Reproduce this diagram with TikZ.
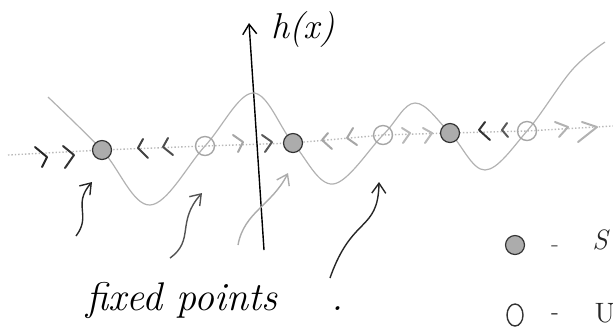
\documentclass[tikz,border=0pt]{standalone}
\usepackage{tikz}
\usetikzlibrary{arrows.meta, shapes.geometric}

\begin{document}
\begin{tikzpicture}[
        x=0.5pt, y=-0.5pt,
        axisline/.style={gray!55, densely dotted, line width=0.7pt},
        curve/.style={gray!60, line width=0.6pt},
        chev/.style={gray!60!black, line width=1pt, line cap=round, line join=round},
        stable/.style={circle, draw=black!80, fill=gray!65, line width=0.6pt, minimum size=9.5pt, inner sep=0pt},
        unstable/.style={circle, draw=gray!70, line width=0.7pt, minimum size=9.5pt, inner sep=0pt},
        pointer/.style={-{Straight Barb[length=5pt, width=7pt]}, line width=0.7pt},
        hand/.style={font=\fontsize{20}{24}\selectfont\itshape, inner sep=0pt}
    ]
        \useasboundingbox (0,0) rectangle (613,329);

        % h(x) axis and the x axis
        \coordinate (xl) at (8,155);
        \coordinate (xr) at (613,126);
        \draw[axisline] (xl) -- (102,150) -- (205,146) -- (293,143) -- (383,135) -- (450,133) -- (527,131) -- (xr);
        \coordinate (hbot) at (264,250);
        \coordinate (htop) at (249,23);
        \draw[-{Straight Barb[length=5pt, width=7pt]}, line width=0.7pt] (hbot) -- (htop);
        \node[hand, font=\fontsize{18}{20}\selectfont\itshape] (hlabel) at (303,30) {h(x)};

        % the function
        \draw[curve] plot[smooth, tension=0.6] coordinates {(48,97) (102,150) (150,205) (205,146) (253,93) (293,143) (333,184) (383,135) (415,103) (450,133) (485,170) (527,131) (572,70) (605,42)};

        % fixed points
        \node[stable] (p1) at (102,150) {};
        \node[unstable] (p2) at (205,146) {};
        \node[stable] (p3) at (293,143) {};
        \node[unstable] (p4) at (383,135) {};
        \node[stable] (p5) at (450,133) {};
        \node[unstable] (p6) at (527,131) {};

        % flow
        \draw[chev, black!85] (35,147) -- (47,157) -- (42,167);
        \draw[chev, black!80] (63,146) -- (74,155) -- (65,168);
        \draw[chev, black!75] (143,139) -- (138,148) -- (148,158);
        \draw[chev] (168,138) -- (163,147) -- (173,155);
        \draw[chev, gray!70] (233,135) -- (243,142) -- (238,152);
        \draw[chev, gray!70!black] (262,135) -- (272,142) -- (265,152);
        \draw[chev, gray!70] (328,133) -- (322,140) -- (332,149);
        \draw[chev, gray!70] (353,128) -- (347,138) -- (357,145);
        \draw[chev, gray!55] (402,128) -- (410,133) -- (403,143);
        \draw[chev, gray!55] (423,128) -- (432,133) -- (425,143);
        \draw[chev, black!80] (485,122) -- (479,130) -- (490,140);
        \draw[chev, gray!70!black] (507,123) -- (502,130) -- (508,137);
        \draw[chev, gray!60] (555,122) -- (568,127) -- (559,137);
        \draw[chev, gray!60] (582,122) -- (597,127) -- (578,142);

        % pointers to the fixed points
        \coordinate (t1) at (76,236);
        \coordinate (a1) at (92,182);
        \coordinate (t2) at (170,258);
        \coordinate (a2) at (202,193);
        \coordinate (t3) at (238,245);
        \coordinate (a3) at (288,173);
        \coordinate (t4) at (330,278);
        \coordinate (a4) at (379,182);
        \draw[pointer, black!85] (t1) .. controls (92,215) and (72,205) .. (a1);
        \draw[pointer, gray!65!black] (t2) .. controls (195,240) and (176,222) .. (a2);
        \draw[pointer, gray!65] (t3) .. controls (244,212) and (272,205) .. (a3);
        \draw[pointer, black!85] (t4) .. controls (352,215) and (378,232) .. (a4);
        \node[hand, anchor=base west] (fixed) at (86,310) {fixed points \quad .};

        % legend
        \node[stable] (ks) at (515,245) {};
        \node[draw=black!80, ellipse, line width=0.7pt, minimum width=8pt, minimum height=11pt, inner sep=0pt] (ku) at (515,315) {};
        \node[font=\fontsize{12}{14}\selectfont, gray!70!black] (ksd) at (555,249) {-};
        \node[font=\fontsize{12}{14}\selectfont, black!85] (kud) at (555,317) {-};
        \node[font=\fontsize{14}{16}\selectfont\itshape, black!85] (kst) at (600,240) {S};
        \node[font=\fontsize{14}{16}\selectfont, black!85] (kun) at (605,313) {U};
    \end{tikzpicture}
\end{document}
